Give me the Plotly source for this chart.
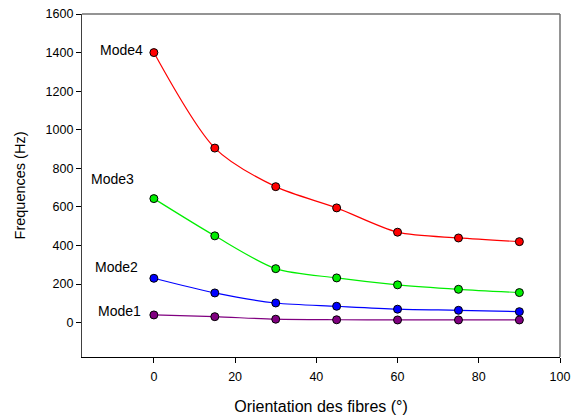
import plotly.graph_objects as go

# Fibre orientation angles (degrees)
orientation = [0, 15, 30, 45, 60, 75, 90]

# Natural frequencies (Hz) for the first four modes
mode1 = [40, 31, 18, 15, 14, 14, 14]
mode2 = [230, 154, 102, 85, 70, 64, 57]
mode3 = [643, 450, 280, 232, 196, 173, 156]
mode4 = [1400, 905, 705, 595, 469, 439, 420]

series_names = ["Mode1", "Mode2", "Mode3", "Mode4"]
series_values = [mode1, mode2, mode3, mode4]
series_colors = ["#800080", "#0000ff", "#00ee00", "#ff0000"]

# label anchor points (right-aligned text next to the first point)
label_x = [-2.8, -3.3, -4.3, -2.1]
label_y = [61, 290, 745, 1415]

font_family = "Liberation Sans, Arial, Helvetica, sans-serif"

fig = go.Figure()
for name, vals, col in zip(series_names, series_values, series_colors):
    fig.add_trace(go.Scatter(
        x=orientation, y=vals, name=name,
        mode="lines+markers",
        line=dict(color=col, width=1.2, shape="spline", smoothing=0.8),
        marker=dict(color=col, size=8, line=dict(color="#000000", width=1)),
        showlegend=False,
    ))

for name, lx, ly in zip(series_names, label_x, label_y):
    fig.add_annotation(x=lx, y=ly, text=name, showarrow=False,
                       xanchor="right", yanchor="middle",
                       font=dict(size=14, color="#000000", family=font_family))

# top and right frame lines
fig.add_shape(type="line", xref="paper", yref="paper", x0=0, x1=1, y0=1, y1=1,
              line=dict(color="#707070", width=1.5))
fig.add_shape(type="line", xref="paper", yref="paper", x0=1, x1=1, y0=0, y1=1,
              line=dict(color="#707070", width=1.5))

fig.update_layout(
    width=578, height=416,
    margin=dict(l=82, r=18, t=14, b=59),
    paper_bgcolor="white", plot_bgcolor="white",
    font=dict(family=font_family, size=12.5, color="#000000"),
    xaxis=dict(
        range=[-17.7, 100], tickvals=[0, 20, 40, 60, 80, 100],
        showgrid=False, zeroline=False, automargin=False,
        showline=True, linecolor="#000000", linewidth=1.2,
        ticks="outside", ticklen=5, tickcolor="#000000", tickwidth=1,
        ticklabelstandoff=3,
        title=dict(text="Orientation des fibres (°)", font=dict(size=16), standoff=17),
        tickfont=dict(size=12.5),
    ),
    yaxis=dict(
        range=[-178, 1600], tickvals=list(range(0, 1601, 200)),
        showgrid=False, zeroline=False, automargin=False,
        showline=True, linecolor="#404040", linewidth=1.2,
        ticks="outside", ticklen=5, tickcolor="#000000", tickwidth=1,
        title=dict(text="Frequences (Hz)", font=dict(size=14.5), standoff=16),
        tickfont=dict(size=12.5),
    ),
)

fig.write_html("out.html")
